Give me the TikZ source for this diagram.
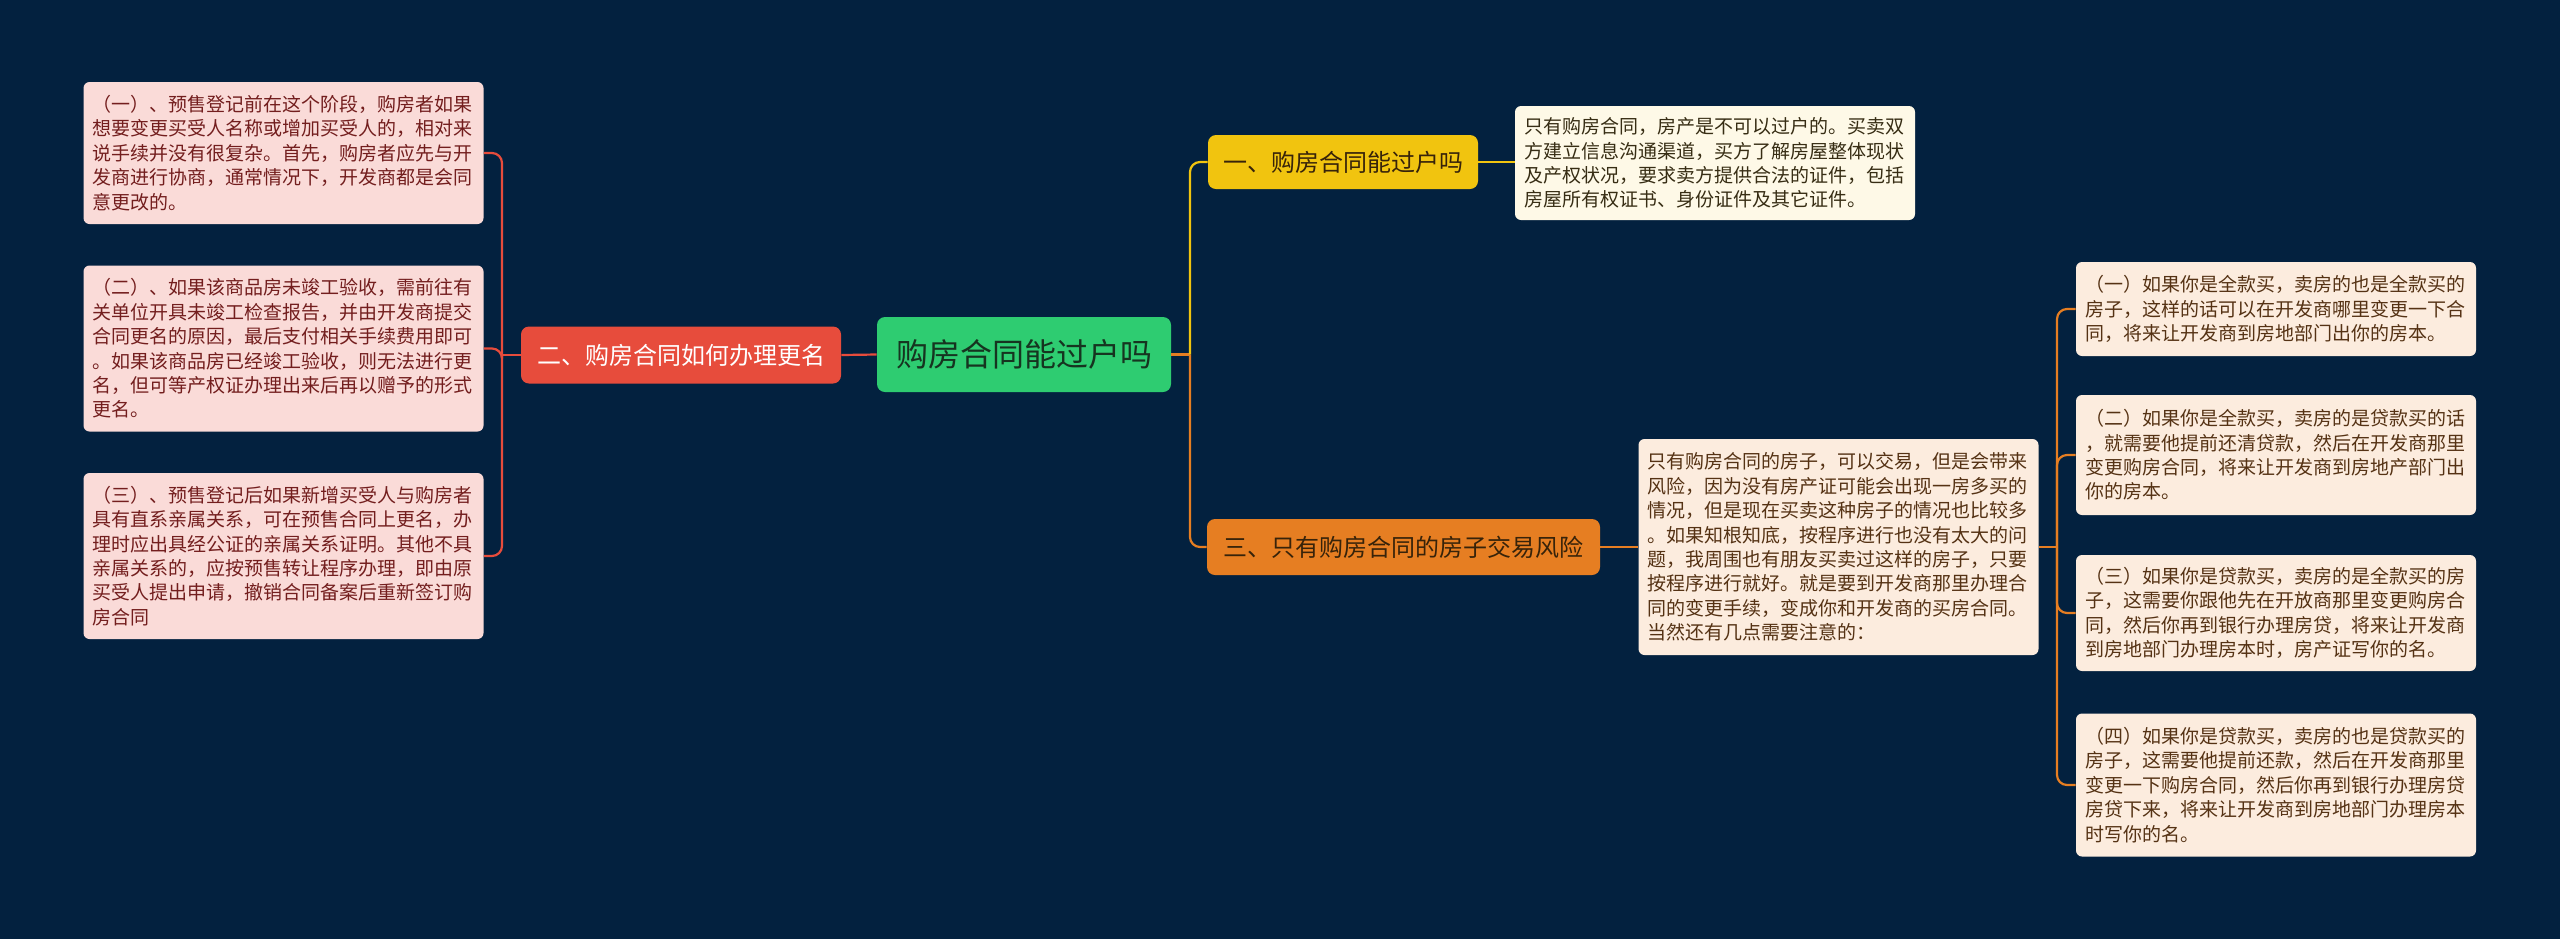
\documentclass[tikz,border=0pt]{standalone}
\usepackage{fontspec}
\newfontfamily\cjk{Noto Sans CJK SC}
\definecolor{NightNavy}{RGB}{3,33,63}
\definecolor{RootGreen}{RGB}{46,204,113}
\definecolor{RootInk}{RGB}{22,52,32}
\definecolor{TopicRed}{RGB}{231,76,60}
\definecolor{TopicYellow}{RGB}{241,196,15}
\definecolor{TopicOrange}{RGB}{230,126,34}
\definecolor{TopicInk}{RGB}{55,35,10}
\definecolor{PinkNote}{RGB}{250,219,216}
\definecolor{PinkInk}{RGB}{115,30,30}
\definecolor{CreamNote}{RGB}{254,249,231}
\definecolor{CreamInk}{RGB}{55,45,20}
\definecolor{PeachNote}{RGB}{252,236,222}
\definecolor{PeachInk}{RGB}{85,50,20}

\begin{document}
\begin{tikzpicture}[x=0.5pt,y=-0.5pt,
    topic/.style={rounded corners=4pt,inner sep=0pt,font=\cjk\fontsize{12pt}{14pt}\selectfont},
    note/.style={rounded corners=3pt,inner xsep=4.5pt,inner ysep=1pt,text width=191pt,align=left,
      font=\cjk\fontsize{9.5pt}{12.2pt}\selectfont},
    pinknote/.style={note,fill=PinkNote,text=PinkInk},
    peachnote/.style={note,fill=PeachNote,text=PeachInk},
    link/.style={line width=1.1pt,rounded corners=5pt}]
  \fill[NightNavy] (0,0) rectangle (2560,939);

  \node[topic,fill=RootGreen,text=RootInk,minimum width=147pt,minimum height=37.5pt,
    font=\cjk\fontsize{16pt}{18pt}\selectfont] (root) at (1024,354.5) {购房合同能过户吗};
  \node[topic,fill=TopicRed,text=white,minimum width=160pt,minimum height=28.5pt] (rename) at (681,355) {二、购房合同如何办理更名};
  \node[topic,fill=TopicYellow,text=TopicInk,minimum width=135pt,minimum height=27pt] (transfer) at (1343,162) {一、购房合同能过户吗};
  \node[topic,fill=TopicOrange,text=TopicInk,minimum width=196.5pt,minimum height=28pt] (risk) at (1403.5,547) {三、只有购房合同的房子交易风险};

  \node[note,fill=CreamNote,text=CreamInk,minimum height=57pt] (transfernote) at (1715,163) {只有购房合同，房产是不可以过户的。买卖双\\方建立信息沟通渠道，买方了解房屋整体现状\\及产权状况，要求卖方提供合法的证件，包括\\房屋所有权证书、身份证件及其它证件。};

  \node[pinknote,minimum height=71pt] (rename1) at (283.5,153) {（一）、预售登记前在这个阶段，购房者如果\\想要变更买受人名称或增加买受人的，相对来\\说手续并没有很复杂。首先，购房者应先与开\\发商进行协商，通常情况下，开发商都是会同\\意更改的。};
  \node[pinknote,minimum height=83pt] (rename2) at (283.5,348.5) {（二）、如果该商品房未竣工验收，需前往有\\关单位开具未竣工检查报告，并由开发商提交\\合同更名的原因，最后支付相关手续费用即可\\。如果该商品房已经竣工验收，则无法进行更\\名，但可等产权证办理出来后再以赠予的形式\\更名。};
  \node[pinknote,minimum height=83pt] (rename3) at (283.5,556) {（三）、预售登记后如果新增买受人与购房者\\具有直系亲属关系，可在预售合同上更名，办\\理时应出具经公证的亲属关系证明。其他不具\\亲属关系的，应按预售转让程序办理，即由原\\买受人提出申请，撤销合同备案后重新签订购\\房合同};

  \node[peachnote,minimum height=108pt] (risknote) at (1838.5,547) {只有购房合同的房子，可以交易，但是会带来\\风险，因为没有房产证可能会出现一房多买的\\情况，但是现在买卖这种房子的情况也比较多\\。如果知根知底，按程序进行也没有太大的问\\题，我周围也有朋友买卖过这样的房子，只要\\按程序进行就好。就是要到开发商那里办理合\\同的变更手续，变成你和开发商的买房合同。\\当然还有几点需要注意的：};

  \node[peachnote,minimum height=47pt] (case1) at (2276,309) {（一）如果你是全款买，卖房的也是全款买的\\房子，这样的话可以在开发商哪里变更一下合\\同，将来让开发商到房地部门出你的房本。};
  \node[peachnote,minimum height=60pt] (case2) at (2276,455) {（二）如果你是全款买，卖房的是贷款买的话\\，就需要他提前还清贷款，然后在开发商那里\\变更购房合同，将来让开发商到房地产部门出\\你的房本。};
  \node[peachnote,minimum height=58pt] (case3) at (2276,613) {（三）如果你是贷款买，卖房的是全款买的房\\子，这需要你跟他先在开放商那里变更购房合\\同，然后你再到银行办理房贷，将来让开发商\\到房地部门办理房本时，房产证写你的名。};
  \node[peachnote,minimum height=71.5pt] (case4) at (2276,785) {（四）如果你是贷款买，卖房的也是贷款买的\\房子，这需要他提前还款，然后在开发商那里\\变更一下购房合同，然后你再到银行办理房贷\\房贷下来，将来让开发商到房地部门办理房本\\时写你的名。};

  \coordinate (lspine) at (502,355);
  \coordinate (mspine) at (1190,354.5);
  \coordinate (rspine) at (2057,547);

  \draw[link,TopicRed] (root.west) -- (rename.east);
  \draw[link,TopicRed] (rename.west) -- (lspine);
  \draw[link,TopicRed] (lspine) |- (rename1.east);
  \draw[link,TopicRed] (lspine) |- (rename2.east);
  \draw[link,TopicRed] (lspine) |- (rename3.east);

  \draw[link,TopicOrange] (root.east) -- (mspine);
  \draw[link,TopicYellow] (mspine) |- (transfer.west);
  \draw[link,TopicOrange] (mspine) |- (risk.west);
  \draw[link,TopicYellow] (transfer.east) -- (transfernote.west |- transfer.east);
  \draw[link,TopicOrange] (risk.east) -- (risknote.west);

  \draw[link,TopicOrange] (risknote.east) -- (rspine);
  \draw[link,TopicOrange] (rspine) |- (case1.west);
  \draw[link,TopicOrange] (rspine) |- (case2.west);
  \draw[link,TopicOrange] (rspine) |- (case3.west);
  \draw[link,TopicOrange] (rspine) |- (case4.west);
\end{tikzpicture}
\end{document}
